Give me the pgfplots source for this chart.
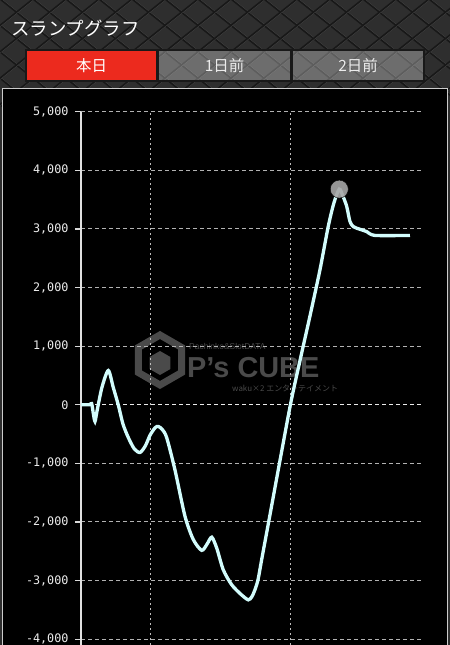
\documentclass[border=0pt]{standalone}
\usepackage{pgfplots}
\pgfplotsset{compat=1.18}
\usetikzlibrary{backgrounds}
\usepackage{fontspec}
\setmainfont{DejaVu Sans}
\newfontfamily\jp{Noto Sans CJK JP}
\newfontfamily\mono{DejaVu Sans Mono}
\newfontfamily\wm{Liberation Sans}
\definecolor{bgdark}{HTML}{2E2E2E}
\definecolor{patline}{HTML}{181818}
\definecolor{pathi}{HTML}{444444}
\definecolor{tabred}{HTML}{EC2A1E}
\definecolor{curve}{HTML}{D2FCFC}
\definecolor{wmgray}{HTML}{4A4A4A}
\begin{document}
\begin{tikzpicture}[x=1bp,y=1bp]
\begin{axis}[
  scale only axis, width=342bp, height=533.2bp,
  xmin=0, xmax=2443, ymin=-4100, ymax=5000,
  axis y line*=left, axis x line*=bottom,
  x axis line style={draw=none},
  y axis line style={-, draw=white!88!black, line width=1.5bp},
  xtick={500,1500}, xticklabels={}, xtick style={draw=none},
  ytick={-4000,-3000,...,5000},
  tick align=outside, major tick length=6bp,
  ytick style={draw=white!85!black, line width=1.2bp},
  xmajorgrids, ymajorgrids,
  x grid style={white!75!black, dash pattern=on 2bp off 3bp, line width=1bp},
  y grid style={white!70!black, dash pattern=on 4bp off 3bp, line width=1bp},
  yticklabel style={font=\mono\fontsize{11.8}{11.8}\selectfont, text=white!93!black, xshift=-3bp},
  /pgf/number format/.cd, 1000 sep={,}, assume math mode=true,
]
\coordinate (O) at (axis cs:0,-4100);
\draw[white!92!black, dash pattern=on 4bp off 3bp, line width=1.2bp] (axis cs:0,0) -- (axis cs:2443,0);
\addplot[only marks, mark=*, mark size=9bp, mark options={fill=white!65!black, draw=none, fill opacity=0.9}] coordinates {(1845,3680)};
\addplot[curve, line width=3.3bp, smooth, tension=0.45] coordinates {
(0,0) (60,0) (76,20) (88,-150) (100,-285) (115,-100) (150,300) (195,585)
(230,300) (266,0) (300,-330) (338,-560) (380,-750) (421,-815) (460,-700)
(493,-520) (530,-390) (552,-370) (580,-420) (612,-560) (671,-1110) (743,-1905)
(802,-2300) (862,-2485) (900,-2380) (934,-2260) (970,-2450) (1016,-2815)
(1076,-3070) (1140,-3230) (1195,-3330) (1222,-3270) (1245,-3140) (1265,-2980)
(1293,-2611) (1350,-1877) (1421,-956) (1500,51) (1564,751) (1636,1519) (1707,2304)
(1766,3043) (1807,3448) (1845,3680)
(1871,3560) (1898,3385) (1921,3130) (1945,3040) (1993,2995) (2041,2955)
(2100,2890) (2350,2890)};
\end{axis}
\begin{scope}[on background layer, shift={(O)}, xshift=-81bp]
\clip (0,0) rectangle (450,645);
% textured background
\fill[bgdark] (0,0) rectangle (450,645);
\foreach \i in {-16,...,30} {
  \draw[pathi, line width=1.2bp] (\i*33+1,646) -- ++(-140,-112);
  \draw[pathi, line width=1.2bp] (\i*33+1,646) -- ++(140,-112);
  \draw[patline, line width=1.6bp] (\i*33,646) -- ++(-140,-112);
  \draw[patline, line width=1.6bp] (\i*33,646) -- ++(140,-112);
}
% title
\node[anchor=west, text=white, font=\jp\fontsize{18.5}{18.5}\selectfont, inner sep=0pt] at (11,617) {スランプグラフ};
% tabs
\fill[tabred] (26,564) rectangle (157,595);
\fill[white, opacity=0.3] (158,564) rectangle (291,595);
\fill[white, opacity=0.3] (292,564) rectangle (424,595);
\draw[black!90, line width=1.2bp] (26,564) rectangle (157,595);
\draw[black!90, line width=1.2bp] (158,564) rectangle (291,595);
\draw[black!90, line width=1.2bp] (292,564) rectangle (424,595);
\node[text=white, font=\jp\fontsize{15.5}{15.5}\selectfont] at (91.5,579.5) {本日};
\node[text=white!92!black, font=\jp\fontsize{15.5}{15.5}\selectfont] at (224.5,579.5) {1日前};
\node[text=white!92!black, font=\jp\fontsize{15.5}{15.5}\selectfont] at (358,579.5) {2日前};
% chart panel
\fill[black] (2,-2) rectangle (448,556);
\draw[white!80!black, line width=1bp] (2.5,-2) -- (2.5,556.5) -- (447.5,556.5) -- (447.5,-2);
% watermark
\begin{scope}[wmgray]
  \draw[line width=7bp] (160,285) ++(90:25) -- ++(-30:25) -- ++(-90:25) -- ++(-150:25) -- ++(150:25) -- ++(90:25) -- cycle;
  \fill (160,282) ++(90:12) -- ++(-30:12) -- ++(-90:12) -- ++(-150:12) -- ++(150:12) -- ++(90:12) -- cycle;
  \node[anchor=west, font=\wm\bfseries\fontsize{29}{29}\selectfont, inner sep=0pt] at (187,277) {P’s CUBE};
  \node[anchor=west, font=\wm\fontsize{8.5}{8.5}\selectfont, inner sep=0pt] at (189,299) {Pachinko\&SlotDATA};
  \node[anchor=west, font=\jp\fontsize{8}{8}\selectfont, inner sep=0pt] at (232,257) {waku×2 エンターテイメント};
\end{scope}
\end{scope}
\pgfresetboundingbox
\path[use as bounding box, shift={(O)}, xshift=-81bp] (0,0) rectangle (450,645);
\end{tikzpicture}
\end{document}
